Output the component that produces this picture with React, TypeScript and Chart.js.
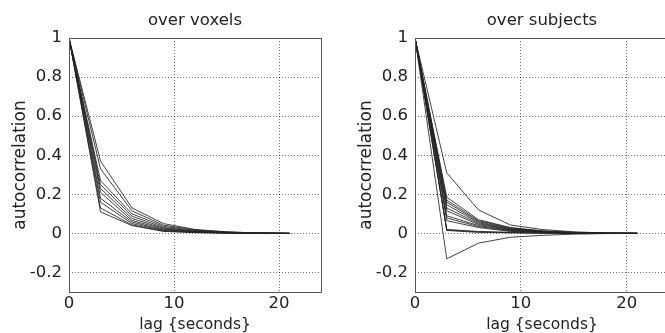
import React, { useEffect, useRef } from 'react';
import { Chart, registerables } from 'chart.js';
Chart.register(...registerables);

const LAGS = [0, 3, 6, 9, 12, 15, 18, 21];
const X_TICKS = [0, 10, 20];
const Y_TICKS = [-0.2, 0, 0.2, 0.4, 0.6, 0.8, 1];

const TITLE_LEFT = 'over voxels';
const TITLE_RIGHT = 'over subjects';
const X_LABEL = 'lag {seconds}';
const Y_LABEL = 'autocorrelation';

const VOXEL_SERIES = [
  [1, 0.37, 0.13, 0.05, 0.02, 0.008, 0.002, 0],
  [1, 0.33, 0.115, 0.042, 0.018, 0.007, 0.002, 0],
  [1, 0.27, 0.1, 0.036, 0.015, 0.006, 0.002, 0],
  [1, 0.25, 0.088, 0.03, 0.012, 0.005, 0.001, 0],
  [1, 0.23, 0.076, 0.026, 0.01, 0.004, 0.001, 0],
  [1, 0.21, 0.066, 0.022, 0.009, 0.004, 0.001, 0],
  [1, 0.18, 0.058, 0.018, 0.008, 0.003, 0.001, 0],
  [1, 0.16, 0.05, 0.015, 0.006, 0.002, 0.001, 0],
  [1, 0.13, 0.043, 0.012, 0.005, 0.002, 0, 0],
  [1, 0.11, 0.04, 0.01, 0.004, 0.001, 0, 0],
];

const SUBJECT_SERIES = [
  [1, 0.31, 0.12, 0.043, 0.02, 0.008, 0.002, 0],
  [1, 0.185, 0.07, 0.03, 0.013, 0.005, 0.001, 0],
  [1, 0.17, 0.065, 0.028, 0.012, 0.005, 0.001, 0],
  [1, 0.16, 0.06, 0.025, 0.011, 0.004, 0.001, 0],
  [1, 0.147, 0.055, 0.022, 0.01, 0.004, 0.001, 0],
  [1, 0.13, 0.05, 0.02, 0.009, 0.003, 0.001, 0],
  [1, 0.116, 0.045, 0.018, 0.008, 0.003, 0.001, 0],
  [1, 0.09, 0.04, 0.015, 0.007, 0.003, 0.001, 0],
  [1, 0.079, 0.035, 0.012, 0.006, 0.002, 0, 0],
  [1, 0.065, 0.03, 0.01, 0.005, 0.002, 0, 0],
  [1, 0.02, 0.01, 0.005, 0.002, 0.001, 0, 0],
  [1, 0.017, 0.008, 0.004, 0.002, 0.001, 0, 0],
  [1, 0.015, 0.005, 0.003, 0.001, 0, 0, 0],
  [1, -0.13, -0.05, -0.02, -0.01, -0.004, -0.001, 0],
];

const FONT = 'DejaVu Sans';
const TEXT = '#222';

const boxPlugin = {
  id: 'box',
  afterDraw(chart: any) {
    const { ctx, chartArea } = chart;
    const { left, top, right, bottom } = chartArea;
    ctx.save();
    ctx.strokeStyle = '#555';
    ctx.lineWidth = 1;
    ctx.strokeRect(Math.round(left) + 0.5, Math.round(top) + 0.5, Math.round(right - left), Math.round(bottom - top));
    ctx.restore();
  },
};

function makeConfig(title: string, series: number[][], padRight: number): any {
  return {
    type: 'line',
    data: {
      labels: LAGS,
      datasets: series.map((s, i) => ({
        label: 's' + i,
        data: s.map((v, j) => ({ x: LAGS[j], y: v })),
        borderColor: 'rgba(35,35,35,0.85)',
        borderWidth: 1,
        pointRadius: 0,
        tension: 0,
        fill: false,
      })),
    },
    options: {
      responsive: false,
      animation: false,
      layout: { padding: { left: 0, right: padRight, top: 0, bottom: 0 } },
      plugins: {
        legend: { display: false },
        tooltip: { enabled: false },
        title: {
          display: true,
          fullSize: false,
          text: title,
          color: TEXT,
          font: { family: FONT, size: 16.5, weight: 'normal', lineHeight: 1 },
          padding: { top: 12, bottom: 9.5 },
        },
      },
      scales: {
        x: {
          type: 'linear',
          min: 0,
          max: 24,
          afterBuildTicks: (scale: any) => {
            scale.ticks = X_TICKS.map((v) => ({ value: v }));
          },
          afterFit: (scale: any) => {
            scale.height = 41;
          },
          ticks: {
            color: TEXT,
            font: { family: FONT, size: 16.5, lineHeight: 1 },
            padding: 3,
            maxRotation: 0,
            callback: (v: any) => String(v),
          },
          grid: { color: 'rgba(0,0,0,0.55)', drawTicks: false, lineWidth: 1 },
          border: { display: false, dash: [1, 2] },
          title: {
            display: true,
            text: X_LABEL,
            color: TEXT,
            font: { family: FONT, size: 15.5, lineHeight: 1 },
            padding: { top: 0, bottom: 0 },
          },
        },
        y: {
          type: 'linear',
          min: -0.3,
          max: 1,
          afterBuildTicks: (scale: any) => {
            scale.ticks = Y_TICKS.map((v) => ({ value: v }));
          },
          afterFit: (scale: any) => {
            scale.width = 69;
          },
          ticks: {
            color: TEXT,
            font: { family: FONT, size: 16.5, lineHeight: 1 },
            padding: 7,
            callback: (v: any) => String(Math.round(v * 10) / 10),
          },
          grid: { color: 'rgba(0,0,0,0.55)', drawTicks: false, lineWidth: 1 },
          border: { display: false, dash: [1, 2] },
          title: {
            display: true,
            text: Y_LABEL,
            color: TEXT,
            font: { family: FONT, size: 17, lineHeight: 1 },
            padding: { top: 12, bottom: 0 },
          },
        },
      },
    },
    plugins: [boxPlugin],
  };
}

function Panel({ title, series, left, padRight }: { title: string; series: number[][]; left: number; padRight: number }) {
  const ref = useRef<HTMLCanvasElement>(null);
  useEffect(() => {
    if (!ref.current) return;
    const chart = new Chart(ref.current, makeConfig(title, series, padRight));
    return () => chart.destroy();
  }, []);
  return (
    <canvas
      ref={ref}
      width={340}
      height={333}
      style={{ position: 'absolute', left, top: 0, width: 340, height: 333 }}
    />
  );
}

export default function App() {
  return (
    <div style={{ position: 'fixed', left: 0, top: 0, width: 665, height: 333, overflow: 'hidden', background: '#fff' }}>
      <Panel title={TITLE_LEFT} series={VOXEL_SERIES} left={0} padRight={19} />
      <Panel title={TITLE_RIGHT} series={SUBJECT_SERIES} left={346} padRight={17} />
    </div>
  );
}
